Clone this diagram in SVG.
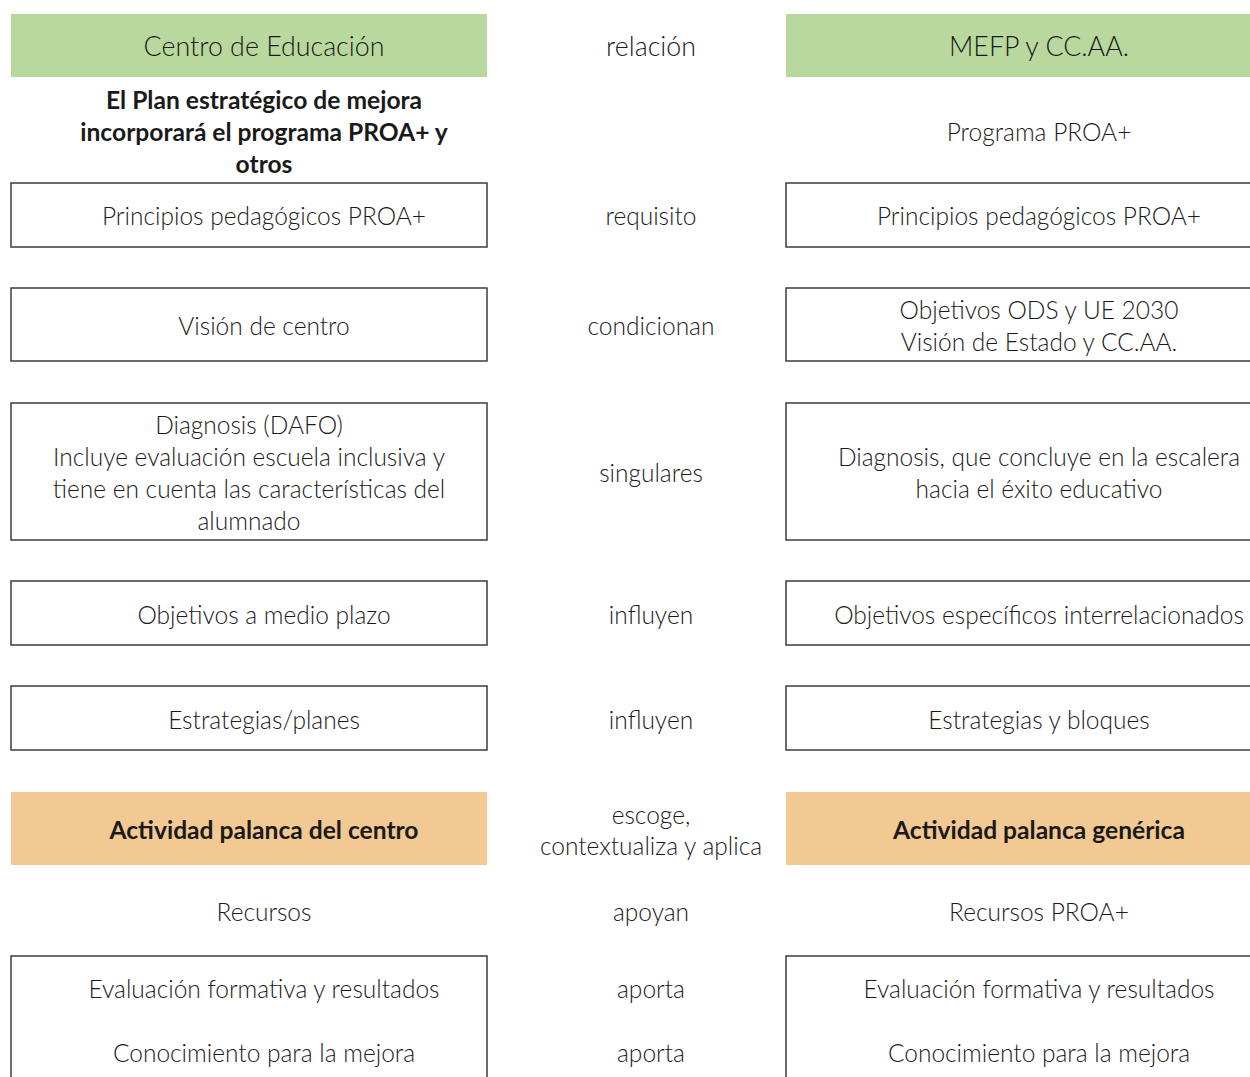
<svg xmlns="http://www.w3.org/2000/svg" width="1250" height="1077" viewBox="0 0 1250 1077">
<style>
text{font-family:Lato,"Liberation Sans",sans-serif;font-size:24.5px;font-weight:300;fill:#1a1a1a;text-anchor:middle;dominant-baseline:central}
.h{font-size:26.8px}
.b{font-weight:bold;font-size:24.6px}
.box{fill:#fff;stroke:#3c3c3c;stroke-width:1.5}
.green{fill:#b9d89d}
.orange{fill:#f2c893}
</style>
<rect width="1250" height="1077" fill="#fff"/>
<g id="hdr-left"><rect class="green" x="11" y="14" width="476" height="63"/><text class="h" x="264" y="46">Centro de Educación</text></g>
<g id="hdr-mid"><text class="h" x="651" y="46">relación</text></g>
<g id="hdr-right"><rect class="green" x="786" y="14" width="480" height="63"/><text class="h" x="1039" y="46">MEFP y CC.AA.</text></g>

<g id="plan-left"><text class="b" x="264" y="99">El Plan estratégico de mejora</text><text class="b" x="264" y="131">incorporará el programa PROA+ y</text><text class="b" x="264" y="163">otros</text></g>
<g id="plan-right"><text x="1039" y="131">Programa PROA+</text></g>

<g id="r1-left"><rect class="box" x="11" y="183" width="476" height="64"/><text x="264" y="215">Principios pedagógicos PROA+</text></g>
<g id="r1-right"><rect class="box" x="786" y="183" width="480" height="64"/><text x="1039" y="215">Principios pedagógicos PROA+</text></g>

<g id="r2-left"><rect class="box" x="11" y="288" width="476" height="73"/><text x="264" y="325">Visión de centro</text></g>
<g id="r2-right"><rect class="box" x="786" y="288" width="480" height="73"/><text x="1039" y="309">Objetivos ODS y UE 2030</text><text x="1039" y="341">Visión de Estado y CC.AA.</text></g>

<g id="r3-left"><rect class="box" x="11" y="403" width="476" height="137"/><text x="249" y="424">Diagnosis (DAFO)</text><text x="249" y="456">Incluye evaluación escuela inclusiva y</text><text x="249" y="488">tiene en cuenta las características del</text><text x="249" y="520">alumnado</text></g>
<g id="r3-right"><rect class="box" x="786" y="403" width="480" height="137"/><text x="1039" y="456">Diagnosis, que concluye en la escalera</text><text x="1039" y="488">hacia el éxito educativo</text></g>

<g id="r4-left"><rect class="box" x="11" y="581" width="476" height="64"/><text x="264" y="614">Objetivos a medio plazo</text></g>
<g id="r4-right"><rect class="box" x="786" y="581" width="480" height="64"/><text x="1039" y="614">Objetivos específicos interrelacionados</text></g>

<g id="r5-left"><rect class="box" x="11" y="686" width="476" height="64"/><text x="264" y="719">Estrategias/planes</text></g>
<g id="r5-right"><rect class="box" x="786" y="686" width="480" height="64"/><text x="1039" y="719">Estrategias y bloques</text></g>

<g id="r6-left"><rect class="orange" x="11" y="792" width="476" height="73"/><text class="b" x="264" y="829">Actividad palanca del centro</text></g>
<g id="r6-right"><rect class="orange" x="786" y="792" width="480" height="73"/><text class="b" x="1039" y="829">Actividad palanca genérica</text></g>

<g id="r7-left"><text x="264" y="911">Recursos</text></g>
<g id="r7-right"><text x="1039" y="911">Recursos PROA+</text></g>

<g id="r8-left"><rect class="box" x="11" y="956" width="476" height="140"/><text x="264" y="988">Evaluación formativa y resultados</text><text x="264" y="1052">Conocimiento para la mejora</text></g>
<g id="r8-right"><rect class="box" x="786" y="956" width="480" height="140"/><text x="1039" y="988">Evaluación formativa y resultados</text><text x="1039" y="1052">Conocimiento para la mejora</text></g>

<g id="relations">
<text x="651" y="215">requisito</text>
<text x="651" y="325">condicionan</text>
<text x="651" y="472">singulares</text>
<text x="651" y="614">influyen</text>
<text x="651" y="719">influyen</text>
<text x="651" y="814">escoge,</text>
<text x="651" y="845">contextualiza y aplica</text>
<text x="651" y="911">apoyan</text>
<text x="651" y="988">aporta</text>
<text x="651" y="1052">aporta</text>
</g>
</svg>
